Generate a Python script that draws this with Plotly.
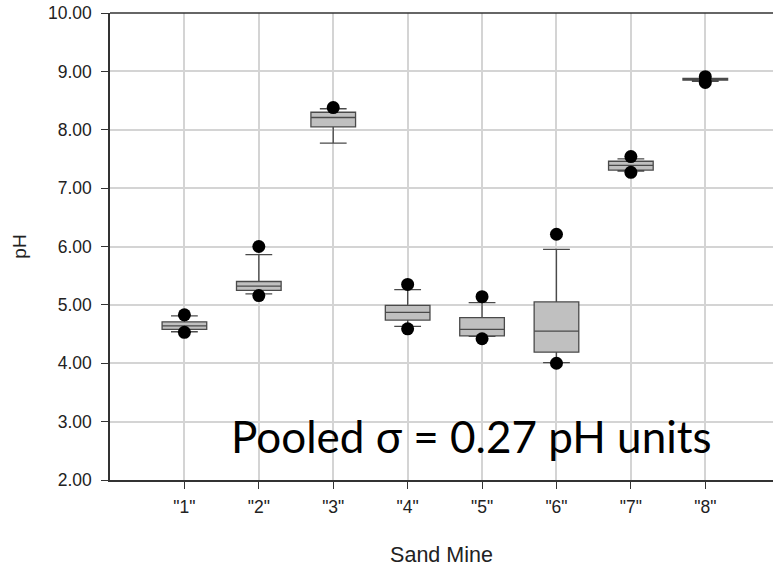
import plotly.graph_objects as go

mines = [1, 2, 3, 4, 5, 6, 7, 8]
mine_labels = ['"1"', '"2"', '"3"', '"4"', '"5"', '"6"', '"7"', '"8"']
q1 = [4.58, 5.25, 8.05, 4.74, 4.47, 4.19, 7.31, 8.85]
median = [4.64, 5.32, 8.21, 4.87, 4.58, 4.55, 7.39, 8.87]
q3 = [4.71, 5.40, 8.30, 4.99, 4.78, 5.05, 7.46, 8.88]
whisk_lo = [4.54, 5.19, 7.77, 4.63, 4.46, 4.01, 7.29, 8.83]
whisk_hi = [4.81, 5.86, 8.36, 5.26, 5.04, 5.95, 7.50, 8.87]
pt_lo = [4.53, 5.16, None, 4.59, 4.42, 4.00, 7.27, 8.81]
pt_hi = [4.83, 6.00, 8.38, 5.35, 5.14, 6.21, 7.54, 8.91]

fig = go.Figure()
fig.add_trace(go.Box(
    x=mines, q1=q1, median=median, q3=q3,
    lowerfence=whisk_lo, upperfence=whisk_hi,
    width=0.6, whiskerwidth=0.6,
    fillcolor="#c0c0c0", line=dict(color="#4a4a4a", width=1.3),
    boxpoints=False, showlegend=False, hoverinfo="skip"))

dx, dy = [], []
for m, lo, hi in zip(mines, pt_lo, pt_hi):
    for v in (lo, hi):
        if v is not None:
            dx.append(m)
            dy.append(v)
fig.add_trace(go.Scatter(x=dx, y=dy, mode="markers",
                         marker=dict(color="black", size=13),
                         showlegend=False, hoverinfo="skip"))

fig.add_annotation(x=0.545, y=0.035, xref="paper", yref="paper",
                   text="Pooled σ = 0.27 pH units", showarrow=False,
                   font=dict(family="Lato", size=44, color="black"))

fig.add_shape(type="line", xref="paper", yref="paper", x0=0, x1=1, y0=1, y1=1,
              line=dict(color="#333333", width=1.5))

fig.update_layout(
    width=773, height=567,
    margin=dict(l=110, r=0, t=13, b=87),
    plot_bgcolor="white", paper_bgcolor="white",
    font=dict(family="Liberation Sans, Arial", size=17.5, color="#222222"),
    xaxis=dict(range=[0, 8.91], tickvals=mines, ticktext=mine_labels,
               showgrid=True, gridcolor="#d4d4d4", gridwidth=1.5,
               showline=True, linecolor="#333333", linewidth=1.5,
               ticks="outside", ticklen=7, tickcolor="#333333",
               zeroline=False, ticklabelstandoff=3,
               tickfont=dict(size=17.5),
               automargin=False,
               title=dict(text="Sand Mine", standoff=33, font=dict(size=21.5))),
    yaxis=dict(range=[2, 10], tickvals=[2, 3, 4, 5, 6, 7, 8, 9, 10],
               tickformat=".2f",
               showgrid=True, gridcolor="#d4d4d4", gridwidth=1.5,
               showline=True, linecolor="#333333", linewidth=1.5,
               ticks="outside", ticklen=7, tickcolor="#333333",
               zeroline=False, tickfont=dict(size=17.5), ticklabelstandoff=6,
               automargin=False,
               title=dict(text="pH", standoff=16, font=dict(size=19))),
)

fig.write_html("out.html")
